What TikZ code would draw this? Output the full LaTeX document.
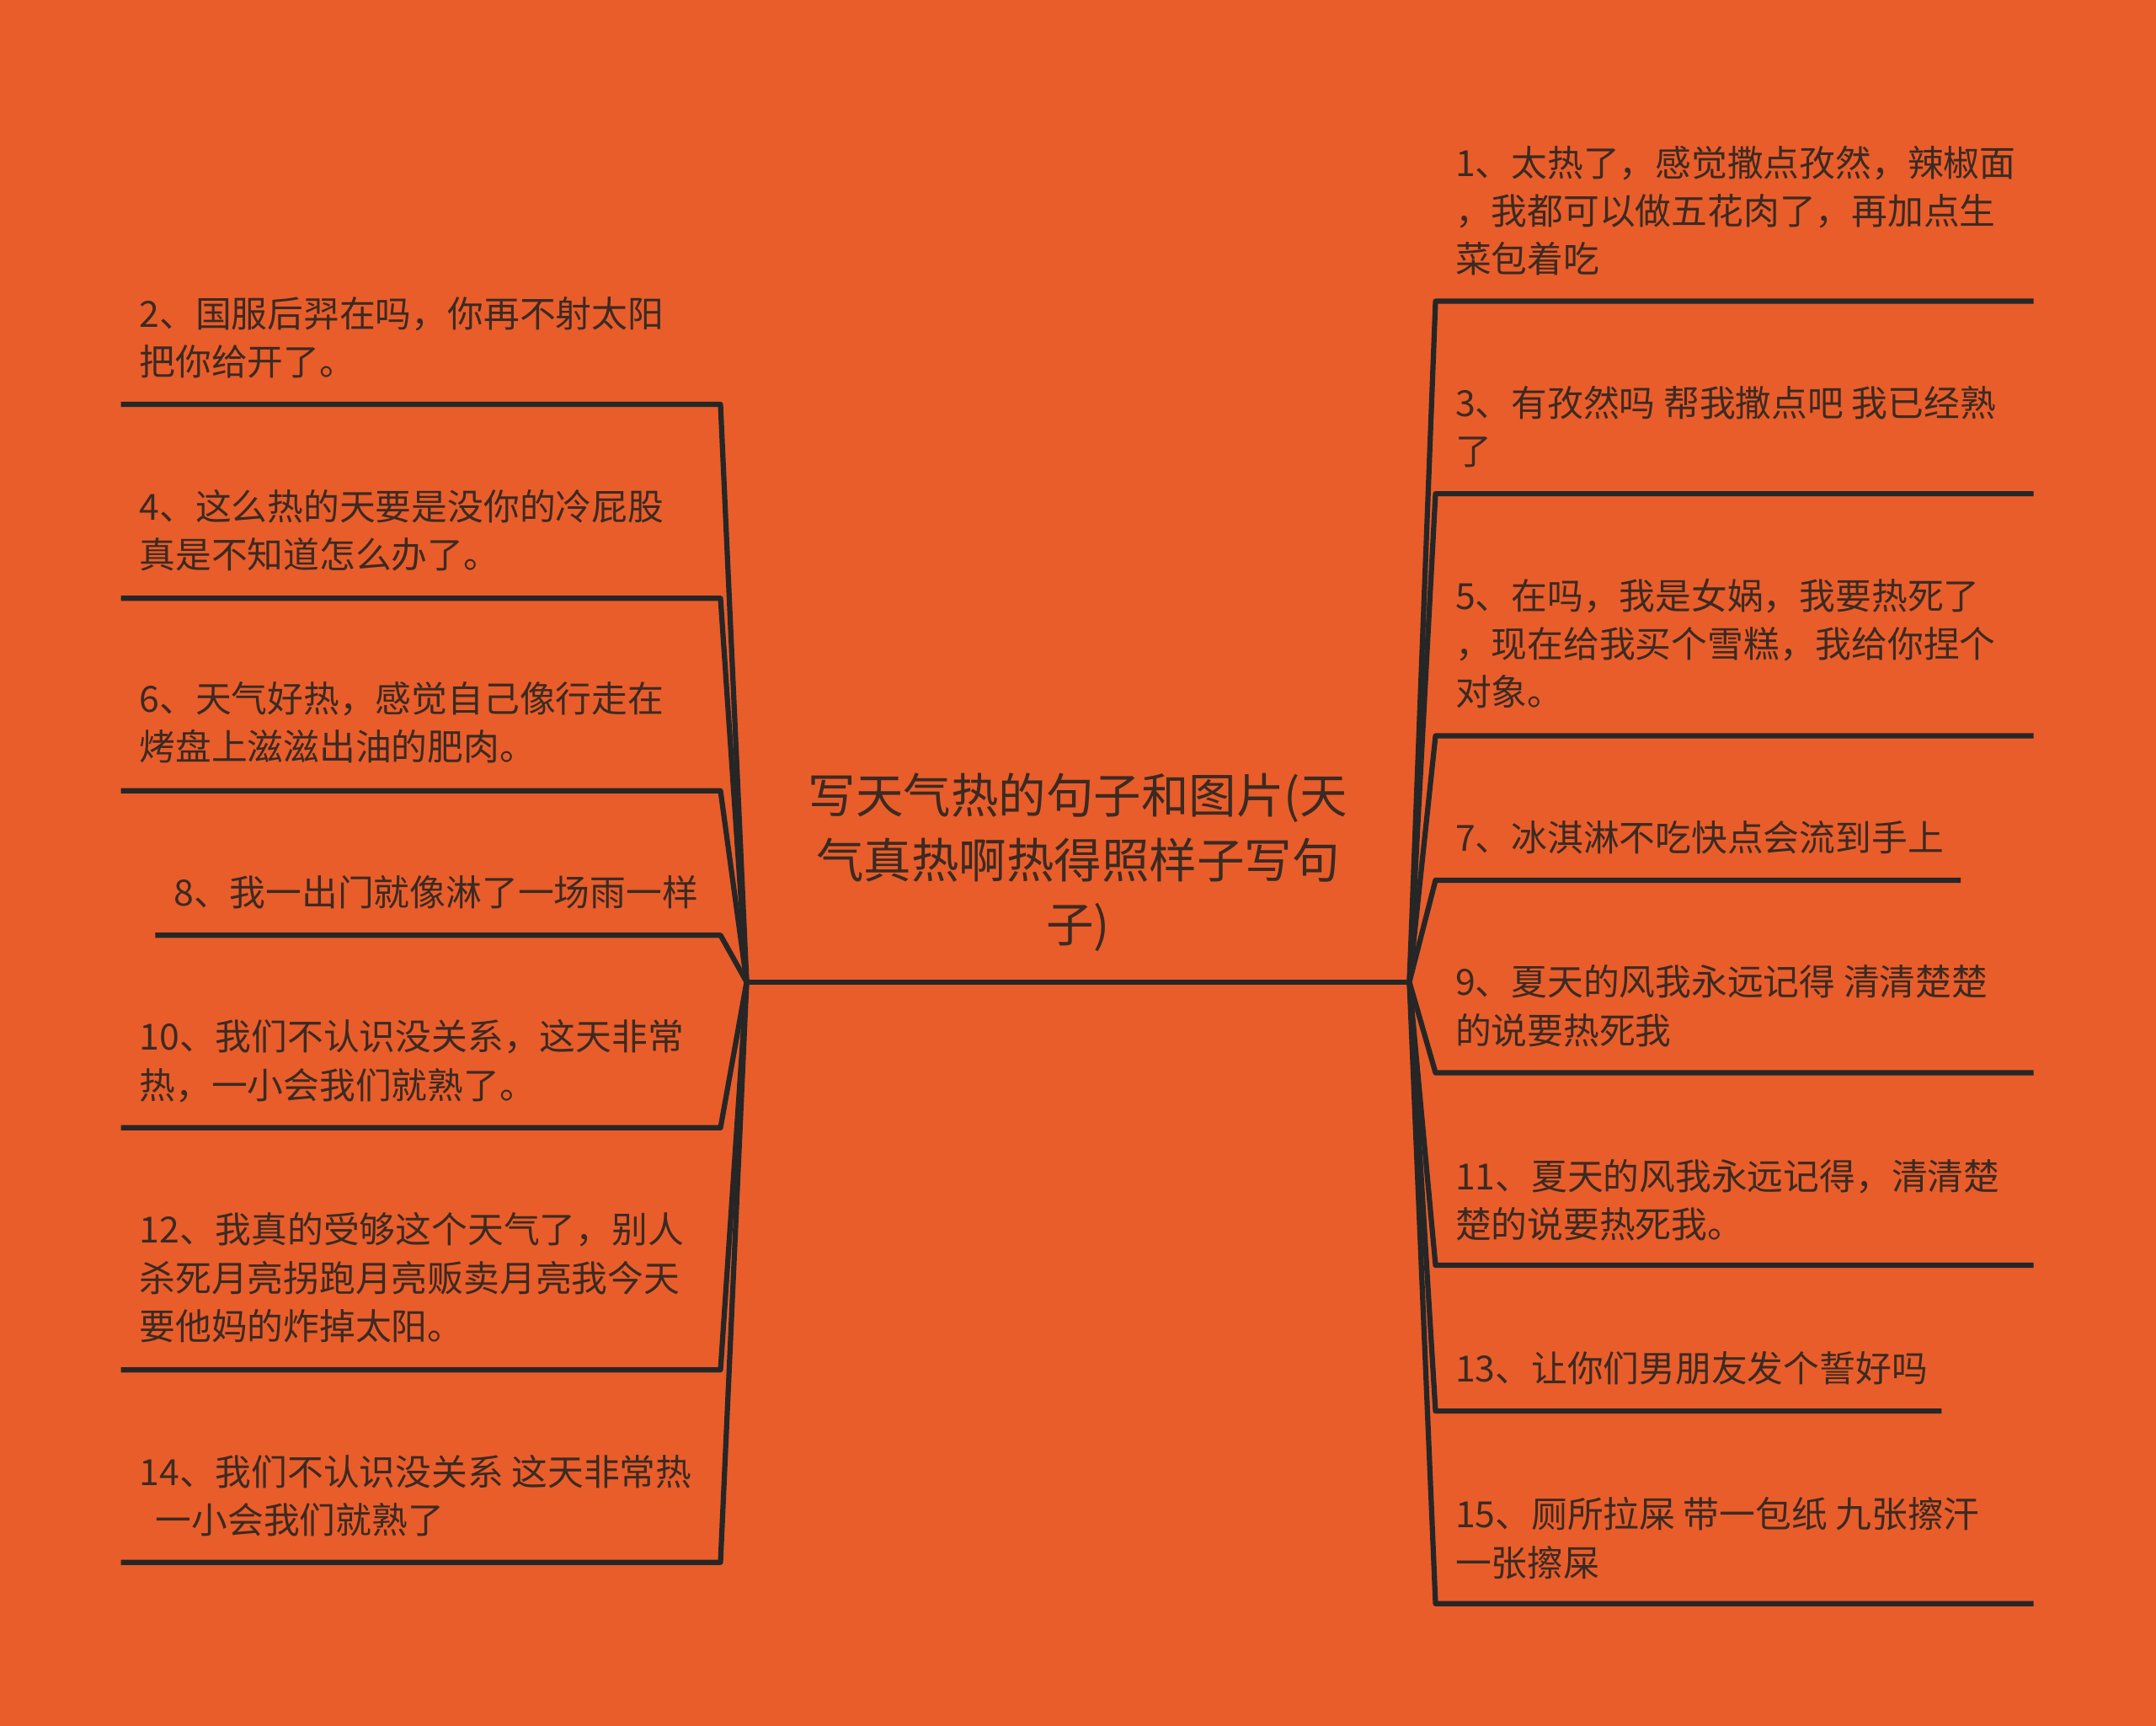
\documentclass[tikz,border=0pt]{standalone}
\usepackage{fontspec}
\newfontfamily\cjk{Noto Sans CJK SC}
\definecolor{bgorange}{HTML}{E95D2A}
\definecolor{txtc}{HTML}{3B2A22}
\definecolor{linec}{HTML}{262626}
\begin{document}
\begin{tikzpicture}[x=0.5pt,y=-0.5pt,
  leaf/.style={anchor=west,inner sep=0pt,align=left,text=txtc,
    font=\cjk\fontsize{13.1}{17.5}\selectfont},
  rootbox/.style={inner sep=0pt,align=center,text=txtc,
    font=\cjk\fontsize{17.3}{23.5}\selectfont},
  conn/.style={draw=linec,line width=1.9pt,line join=round}]
\fill[bgorange] (0,0) rectangle (1568,1255);
\useasboundingbox (0,0) rectangle (1568,1255);

% root
\node[rootbox] (root) at (784,627) {写天气热的句子和图片(天\\气真热啊热得照样子写句\\子)};
\coordinate (hubL) at (543,714);
\coordinate (hubR) at (1025,714);
\draw[conn] (hubL) -- (hubR);

% left leaves
\node[leaf] (t2)  at (101,245.5) {2、国服后羿在吗，你再不射太阳\\把你给开了。};
\node[leaf] (t4)  at (101,385.5) {4、这么热的天要是没你的冷屁股\\真是不知道怎么办了。};
\node[leaf] (t6)  at (101,525.5) {6、天气好热，感觉自己像行走在\\烤盘上滋滋出油的肥肉。};
\node[leaf] (t8)  at (126,649) {8、我一出门就像淋了一场雨一样};
\node[leaf] (t10) at (101,771.5) {10、我们不认识没关系，这天非常\\热，一小会我们就熟了。};
\node[leaf] (t12) at (101,929) {12、我真的受够这个天气了，别人\\杀死月亮拐跑月亮贩卖月亮我今天\\要他妈的炸掉太阳。};
\node[leaf] (t14) at (101,1087.5) {14、我们不认识没关系 这天非常热\\\hspace*{0.45em}一小会我们就熟了};

\foreach \n/\y/\xs in {2/294/88,4/435/88,6/575/88,8/680/113,10/820/88,12/996/88,14/1136/88}{
  \coordinate (a\n) at (524,\y);
  \coordinate (b\n) at (\xs,\y);
  \draw[conn] (hubL) -- (a\n) -- (b\n);
}

% right leaves
\node[leaf] (t1)  at (1058,153) {1、太热了，感觉撒点孜然，辣椒面\\，我都可以做五花肉了，再加点生\\菜包着吃};
\node[leaf] (t3)  at (1058,310.5) {3、有孜然吗 帮我撒点吧 我已经熟\\了};
\node[leaf] (t5)  at (1058,468) {5、在吗，我是女娲，我要热死了\\，现在给我买个雪糕，我给你捏个\\对象。};
\node[leaf] (t7)  at (1058,609) {7、冰淇淋不吃快点会流到手上};
\node[leaf] (t9)  at (1058,731.5) {9、夏天的风我永远记得 清清楚楚\\的说要热死我};
\node[leaf] (t11) at (1058,872.5) {11、夏天的风我永远记得，清清楚\\楚的说要热死我。};
\node[leaf] (t13) at (1058,995) {13、让你们男朋友发个誓好吗};
\node[leaf] (t15) at (1058,1118.5) {15、厕所拉屎 带一包纸 九张擦汗\\一张擦屎};

\foreach \n/\y/\xe in {1/219/1479,3/359/1479,5/535/1479,7/640/1426,9/780/1479,11/920/1479,13/1026/1412,15/1166/1479}{
  \coordinate (a\n) at (1044,\y);
  \coordinate (b\n) at (\xe,\y);
  \draw[conn] (hubR) -- (a\n) -- (b\n);
}
\end{tikzpicture}
\end{document}
